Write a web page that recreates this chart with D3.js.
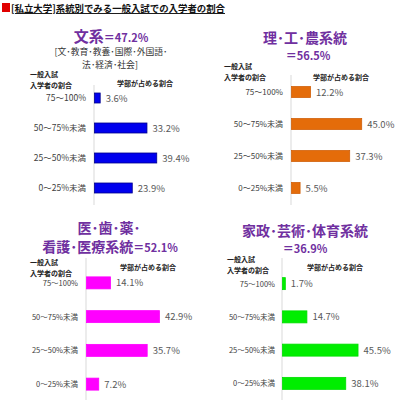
<!DOCTYPE html>
<html>
<head>
<meta charset="utf-8">
<script src="https://cdn.jsdelivr.net/npm/d3@7"></script>
<style>
body{margin:0;background:#fff;}
text{font-family:"Noto Sans CJK JP","Noto Sans",sans-serif;}
</style>
</head>
<body>
<div id="chart"></div>
<script>
//DATA
const mainTitle = "[私立大学]系統別でみる一般入試での入学者の割合";
const categories = ["75〜100%", "50〜75%未満", "25〜50%未満", "0〜25%未満"];
const bunkeiValues  = [3.6, 33.2, 39.4, 23.9];
const rikeiValues   = [12.2, 45.0, 37.3, 5.5];
const iryoValues    = [14.1, 42.9, 35.7, 7.2];
const kaseiValues   = [1.7, 14.7, 45.5, 38.1];
const leftHeader  = ["一般入試", "入学者の割合"];
const rightHeader = "学部が占める割合";

//LAYOUT
const W = 395, H = 400;
const purple = "#7030A0";

const svg = d3.select("#chart").append("svg")
  .attr("width", W).attr("height", H)
  .attr("viewBox", `0 0 ${W} ${H}`);

//Main title
svg.append("rect").attr("x", 2).attr("y", 3).attr("width", 8).attr("height", 9).attr("fill", "#e00000");
svg.append("text").attr("x", 11).attr("y", 12)
  .attr("font-size", 9.5).attr("font-weight", "bold").attr("fill", "#111")
  .attr("text-decoration", "underline")
  .attr("textLength", 214).attr("lengthAdjust", "spacingAndGlyphs")
  .text(mainTitle);

const panels = [
  {values: bunkeiValues, color: "#0000ee", stroke: "#00008b",
   axisX: 94, pxPerPct: 1.58, yRange: [83, 203], axisY: [85, 205], barH: 10,
   titles: [{x: 111, y: 42, parts: [["文系", 15], ["＝47.2%", 11]]}],
   subs: [{x: 111, y: 55, t: "[文･教育･教養･国際･外国語･"}, {x: 110, y: 68, t: "法･経済･社会]"}],
   leftX: 30, leftY: [77, 88], rightX: 117, rightY: 86, labelX: 86, labelSize: 8.5},
  {values: rikeiValues, color: "#e46c0a", stroke: "#d0600a",
   axisX: 291, pxPerPct: 1.56, yRange: [76, 204], axisY: [75, 205], barH: 11,
   titles: [{x: 305, y: 43, parts: [["理･工･農系統", 14]]}, {x: 308, y: 60, parts: [["＝56.5%", 11]]}],
   subs: [],
   leftX: 224, leftY: [69, 80], rightX: 313, rightY: 80, labelX: 283, labelSize: 8},
  {values: iryoValues, color: "#ff00ff", stroke: "#ff00ff",
   axisX: 86, pxPerPct: 1.70, yRange: [266, 401], axisY: [258, 400], barH: 12,
   titles: [{x: 109, y: 233, parts: [["医･歯･薬･", 14]]}, {x: 110, y: 252, parts: [["看護･医療系統", 14], ["＝52.1%", 11]]}],
   subs: [],
   leftX: 30, leftY: [265, 276], rightX: 120, rightY: 270, labelX: 78, labelSize: 7.5},
  {values: kaseiValues, color: "#00ee00", stroke: "#00dd00",
   axisX: 282, pxPerPct: 1.66, yRange: [267, 400], axisY: [258, 400], barH: 12,
   titles: [{x: 305, y: 236, parts: [["家政･芸術･体育系統", 14]]}, {x: 305, y: 253, parts: [["＝36.9%", 11]]}],
   subs: [],
   leftX: 227, leftY: [262, 273], rightX: 307, rightY: 270, labelX: 275, labelSize: 7.5}
];

function drawPanel(p){
  const g = svg.append("g");
  const x = d3.scaleLinear().domain([0, 50]).range([p.axisX, p.axisX + 50 * p.pxPerPct]);
  const y = d3.scalePoint().domain(categories).range(p.yRange).padding(0.5);
  const rows = categories.map((c, i) => ({cat: c, v: p.values[i]}));

  //Titles
  p.titles.forEach(t => {
    const tx = g.append("text").attr("x", t.x).attr("y", t.y)
      .attr("text-anchor", "middle").attr("fill", purple).attr("font-weight", "bold");
    t.parts.forEach(pt => tx.append("tspan").attr("font-size", pt[1]).text(pt[0]));
  });
  p.subs.forEach(s => {
    g.append("text").attr("x", s.x).attr("y", s.y).attr("text-anchor", "middle")
      .attr("font-size", 8.8).attr("fill", "#333").text(s.t);
  });

  //Headers
  leftHeader.forEach((h, i) => {
    g.append("text").attr("x", p.leftX).attr("y", p.leftY[i])
      .attr("font-size", 7).attr("font-weight", "bold").attr("fill", "#222").text(h);
  });
  g.append("text").attr("x", p.rightX).attr("y", p.rightY)
    .attr("font-size", 7).attr("font-weight", "bold").attr("fill", "#222").text(rightHeader);

  //Axis line
  g.append("line").attr("x1", p.axisX).attr("x2", p.axisX)
    .attr("y1", p.axisY[0]).attr("y2", p.axisY[1])
    .attr("stroke", "#d9d9d9").attr("stroke-width", 1);

  //Bars
  g.selectAll("rect.bar").data(rows).join("rect")
    .attr("class", "bar")
    .attr("x", x(0) + 0.5)
    .attr("y", d => y(d.cat) - p.barH / 2)
    .attr("width", d => x(d.v) - x(0))
    .attr("height", p.barH)
    .attr("fill", p.color)
    .attr("stroke", p.stroke).attr("stroke-width", 0.8);

  //Category labels
  g.selectAll("text.cat").data(rows).join("text")
    .attr("class", "cat")
    .attr("x", p.labelX).attr("y", d => y(d.cat) + 3)
    .attr("text-anchor", "end")
    .attr("font-size", p.labelSize).attr("fill", "#404040")
    .text(d => d.cat);

  //Value labels
  g.selectAll("text.val").data(rows).join("text")
    .attr("class", "val")
    .attr("x", d => x(d.v) + 6).attr("y", d => y(d.cat) + 3.5)
    .attr("font-size", 9.5).attr("fill", "#595959")
    .text(d => d.v.toFixed(1) + "%");
}

panels.forEach(drawPanel);
</script>
</body>
</html>
